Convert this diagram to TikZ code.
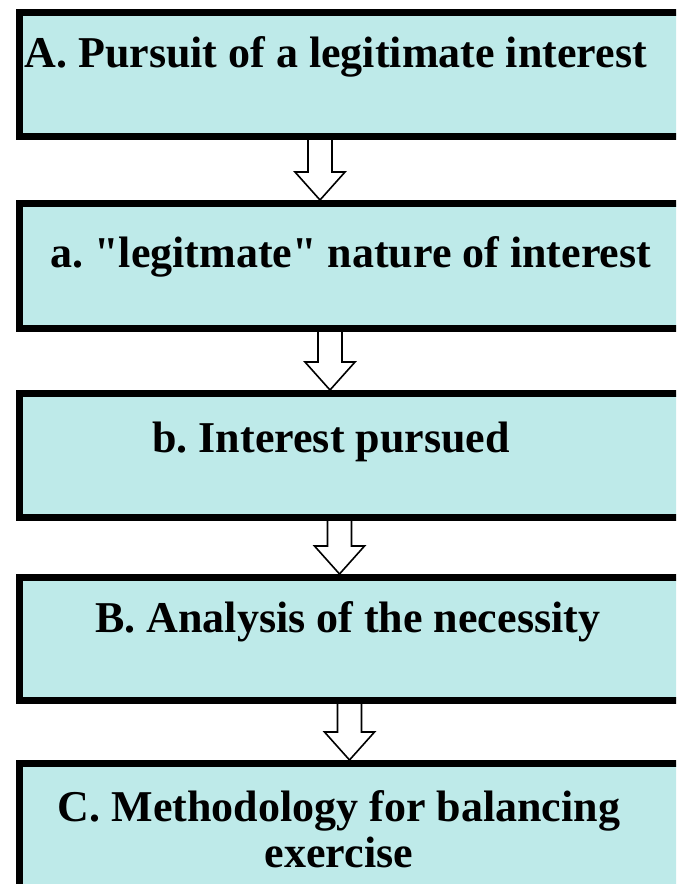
\documentclass[tikz,border=0pt]{standalone}
\usepackage{fontspec}
\setmainfont{Liberation Serif}
\usetikzlibrary{calc}
\definecolor{boxcyan}{RGB}{190,234,233}
\frenchspacing
\newcommand\flowarrow[3]{%
  \filldraw[arrowbody] let \p1=([xshift=#3]#1.south west), \p2=(#2.north) in
    (\x1-6pt,\y1) -- (\x1-6pt,\y2+14pt) -- (\x1-12.5pt,\y2+14pt) -- (\x1,\y2)
    -- (\x1+12.5pt,\y2+14pt) -- (\x1+6pt,\y2+14pt) -- (\x1+6pt,\y1);}
\begin{document}
\begin{tikzpicture}[x=0.5pt,y=-0.5pt,
  stepbox/.style={draw, fill=boxcyan, line width=3.5pt, minimum width=338.5pt, minimum height=62pt, anchor=north west, inner sep=0pt},
  steptext/.style={anchor=base west, inner sep=0pt, font=\fontsize{22pt}{23pt}\selectfont\bfseries},
  arrowbody/.style={fill=white, draw=black, line width=0.8pt, line join=miter}]
\useasboundingbox (0,0) rectangle (676,884);
\clip (0,0) rectangle (676,884);
\fill[white] (0,0) rectangle (676,884);
\node[stepbox] (pursuit) at (16,9) {};
\node[stepbox, minimum height=62.5pt] (nature) at (16,200) {};
\node[stepbox] (pursued) at (16,390) {};
\node[stepbox, minimum height=61.5pt] (necessity) at (16,574) {};
\node[stepbox, minimum height=76.5pt] (balancing) at (16,760) {};
\node[steptext] (pursuittext) at (24,67) {A. Pursuit of a legitimate interest};
\node[steptext] (naturetext) at (50,267) {a. \textquotedbl legitmate\textquotedbl{} nature of interest};
\node[steptext] (pursuedtext) at (152,452) {b. Interest pursued};
\node[steptext] (necessitytext) at (95,632) {B. Analysis of the necessity};
\node[steptext, anchor=base, align=center] (balancingtext) at (339,867) {C. Methodology for balancing\\exercise};
\flowarrow{pursuit}{nature}{152pt}
\flowarrow{nature}{pursued}{157pt}
\flowarrow{pursued}{necessity}{161.75pt}
\flowarrow{necessity}{balancing}{166.75pt}
\end{tikzpicture}
\end{document}
